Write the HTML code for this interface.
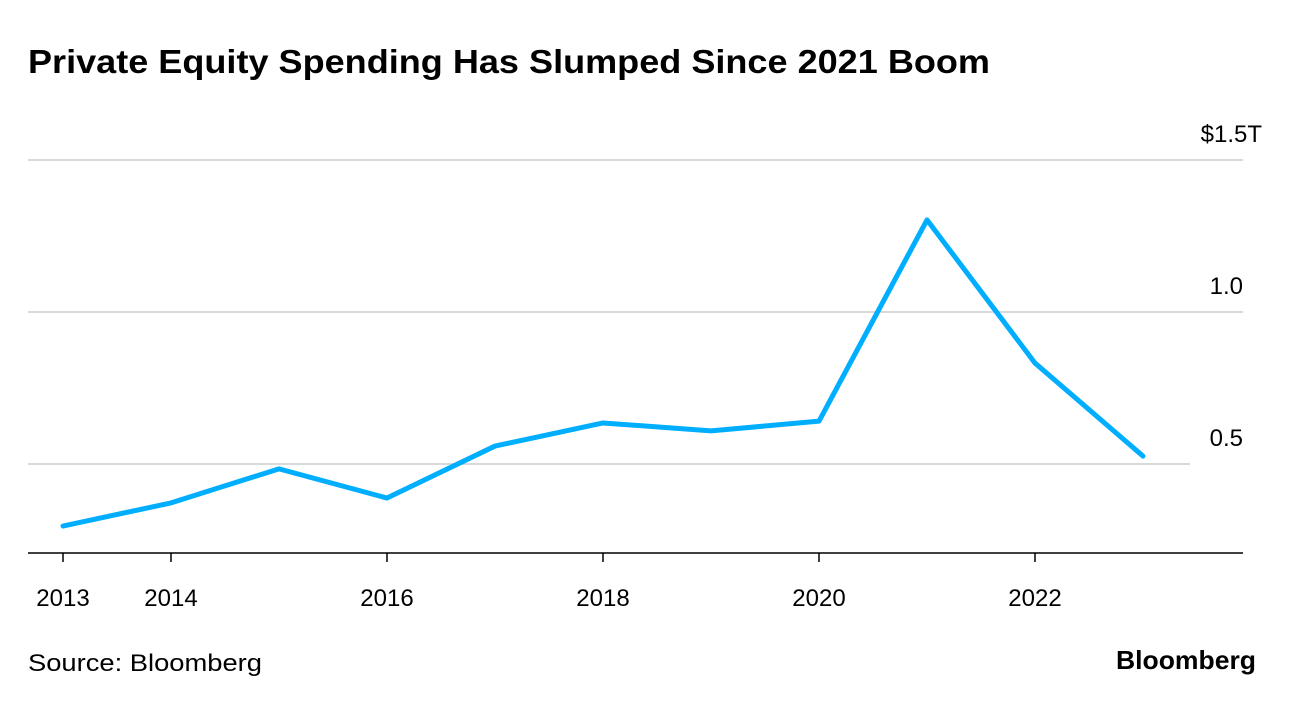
<!DOCTYPE html>
<html><head><meta charset="utf-8"><style>
body{margin:0;background:#fff;font-family:"Liberation Sans",sans-serif;}
</style></head><body>
<svg width="1296" height="704" xmlns="http://www.w3.org/2000/svg">
<text x="28" y="73" font-size="33" font-weight="bold" fill="#000" textLength="962" lengthAdjust="spacingAndGlyphs">Private Equity Spending Has Slumped Since 2021 Boom</text>
<g id="grid"></g>
<g id="xaxis"></g>
<path id="line" fill="none" stroke="#00aeff" stroke-width="5" stroke-linejoin="round" stroke-linecap="round"/>
<text x="28" y="671" font-size="24" fill="#000" textLength="234" lengthAdjust="spacingAndGlyphs">Source: Bloomberg</text>
<text x="1116" y="669" font-size="26" font-weight="bold" fill="#000" textLength="140" lengthAdjust="spacingAndGlyphs">Bloomberg</text>
</svg>
<script>
const years=[2013,2014,2015,2016,2017,2018,2019,2020,2021,2022,2023];
const values=[0.296,0.372,0.484,0.388,0.559,0.635,0.609,0.641,1.303,0.832,0.526];
const yTicks=[0.5,1.0,1.5];
const yTickLabels=["0.5","1.0","$1.5T"];
const xTicks=[2013,2014,2016,2018,2020,2022];
const xTickLabels=["2013","2014","2016","2018","2020","2022"];
const xs=y=>63+(y-2013)*108;
const ys=v=>616-v*304;
const NS="http://www.w3.org/2000/svg";
const grid=document.getElementById('grid');
yTicks.forEach((t,i)=>{
  const l=document.createElementNS(NS,'line');
  
  
  l.setAttribute('x1',28);l.setAttribute('x2',t===0.5?1190:1243);
  l.setAttribute('y1',ys(t));l.setAttribute('y2',ys(t));
  l.setAttribute('stroke','#d9d9d9');l.setAttribute('stroke-width',2);
  grid.appendChild(l);
  const tx=document.createElementNS(NS,'text');
  
  
  tx.setAttribute('x',t===1.5?1262:1243);tx.setAttribute('y',ys(t)-18);
  tx.setAttribute('text-anchor','end');tx.setAttribute('font-size',24);
  tx.textContent=yTickLabels[i];grid.appendChild(tx);
});
const xa=document.getElementById('xaxis');
const ax=document.createElementNS(NS,'line');


ax.setAttribute('x1',28);ax.setAttribute('x2',1243);ax.setAttribute('y1',553);ax.setAttribute('y2',553);
ax.setAttribute('stroke','#000');ax.setAttribute('stroke-width',1.5);xa.appendChild(ax);
xTicks.forEach((t,i)=>{
  const l=document.createElementNS(NS,'line');
  
  
  l.setAttribute('x1',xs(t));l.setAttribute('x2',xs(t));l.setAttribute('y1',553);l.setAttribute('y2',562);
  l.setAttribute('stroke','#000');l.setAttribute('stroke-width',1.5);xa.appendChild(l);
  const tx=document.createElementNS(NS,'text');
  
  
  tx.setAttribute('x',xs(t));tx.setAttribute('y',606);
  tx.setAttribute('text-anchor','middle');tx.setAttribute('font-size',24);
  tx.textContent=xTickLabels[i];xa.appendChild(tx);
});
document.getElementById('line').setAttribute('d',years.map((y,i)=>(i?'L':'M')+xs(y)+','+ys(values[i])).join(' '));
</script>
</body></html>
